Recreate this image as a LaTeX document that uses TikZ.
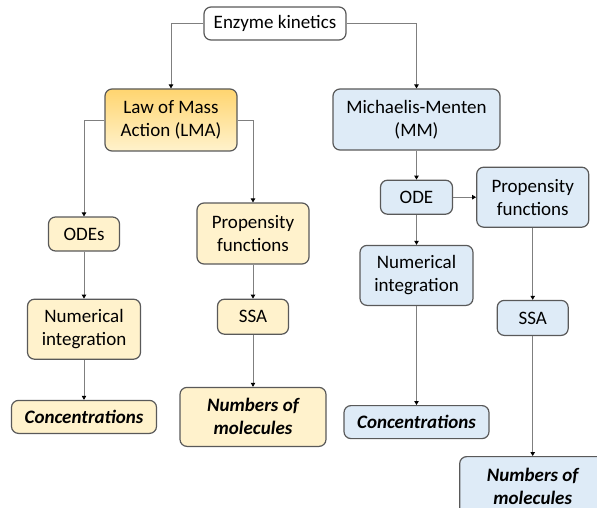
\documentclass[tikz,border=0pt]{standalone}
\usepackage{fontspec}
\setmainfont{Carlito}
\usepackage{tikz}
\usetikzlibrary{arrows.meta,positioning}
\definecolor{KinEdge}{HTML}{595959}
\definecolor{KinLine}{HTML}{7F7F7F}
\definecolor{KinPaleOrange}{HTML}{FFF2CC}
\definecolor{KinOrange}{HTML}{FFD570}
\definecolor{KinPaleBlue}{HTML}{DEEBF7}
\tikzset{
  link/.style={-{Triangle[length=4pt,width=4.5pt,black]}, line width=0.8pt, draw=KinLine},
  box/.style={rounded corners=7pt, draw=KinEdge, fill=white, line width=1.2pt,
              align=center, inner sep=3pt},
  lmabox/.style={box, fill=KinPaleOrange},
  mmbox/.style={box, fill=KinPaleBlue},
  result/.style={execute at begin node=\bfseries\itshape},
}

\begin{document}
\begin{tikzpicture}[x=1pt,y=1pt,node distance=30pt,
    font=\fontsize{19}{23}\selectfont]
    \useasboundingbox (0,0) rectangle (597,-508);
    % top of the tree
    \node[box,minimum width=142pt,minimum height=33pt] (kin) at (275,-23.5) {Enzyme kinetics};
    \node[box,draw=KinEdge,top color=KinOrange,bottom color=KinPaleOrange,
          minimum width=132pt,minimum height=62pt] (lma) at (171,-120) {Law of Mass\\Action (LMA)};
    \node[mmbox,minimum width=167pt,minimum height=61pt] (mm) at (416.5,-119.5) {Michaelis-Menten\\(MM)};
    % LMA, deterministic
    \node[lmabox,minimum width=71pt,minimum height=34pt] (odes) at (84,-234) {ODEs};
    \node[lmabox,minimum width=113pt,minimum height=60pt,below=47pt of odes] (numL) {Numerical\\integration};
    \node[lmabox,result,minimum width=145pt,minimum height=33pt,below=40pt of numL] (concL) {Concentrations};
    % LMA, stochastic
    \node[lmabox,minimum width=112pt,minimum height=61pt] (propL) at (253,-233.5) {Propensity\\functions};
    \node[lmabox,minimum width=71pt,minimum height=35pt,below=34pt of propL] (ssaL) {SSA};
    \node[lmabox,result,minimum width=146pt,minimum height=59pt,below=52pt of ssaL] (numbL) {Numbers of\\molecules};
    % MM
    \node[mmbox,minimum width=72pt,minimum height=34pt,below=29pt of mm] (ode) {ODE};
    \node[mmbox,minimum width=112pt,minimum height=60pt,right=23pt of ode] (propR) {Propensity\\functions};
    \node[mmbox,minimum width=113pt,minimum height=60pt,below=30pt of ode] (numR) {Numerical\\integration};
    \node[mmbox,result,minimum width=145pt,minimum height=33pt,below=99pt of numR] (concR) {Concentrations};
    \node[mmbox,minimum width=71pt,minimum height=35pt,below=72pt of propR] (ssaR) {SSA};
    \node[mmbox,result,minimum width=146pt,minimum height=59pt,below=120pt of ssaR] (numbR) {Numbers of\\molecules};
    % connectors
    \draw[link] (kin.west) -| (lma.north);
    \draw[link] (kin.east) -| (mm.north);
    \draw[link] (lma.west) -| (odes.north);
    \draw[link] (lma.east) -| (propL.north);
    \draw[link] (odes) -- (numL);
    \draw[link] (numL) -- (concL);
    \draw[link] (propL) -- (ssaL);
    \draw[link] (ssaL) -- (numbL);
    \draw[link] (mm) -- (ode);
    \draw[link] (ode) -- (propR);
    \draw[link] (ode) -- (numR);
    \draw[link] (numR) -- (concR);
    \draw[link] (propR) -- (ssaR);
    \draw[link] (ssaR) -- (numbR);
  \end{tikzpicture}
\end{document}
